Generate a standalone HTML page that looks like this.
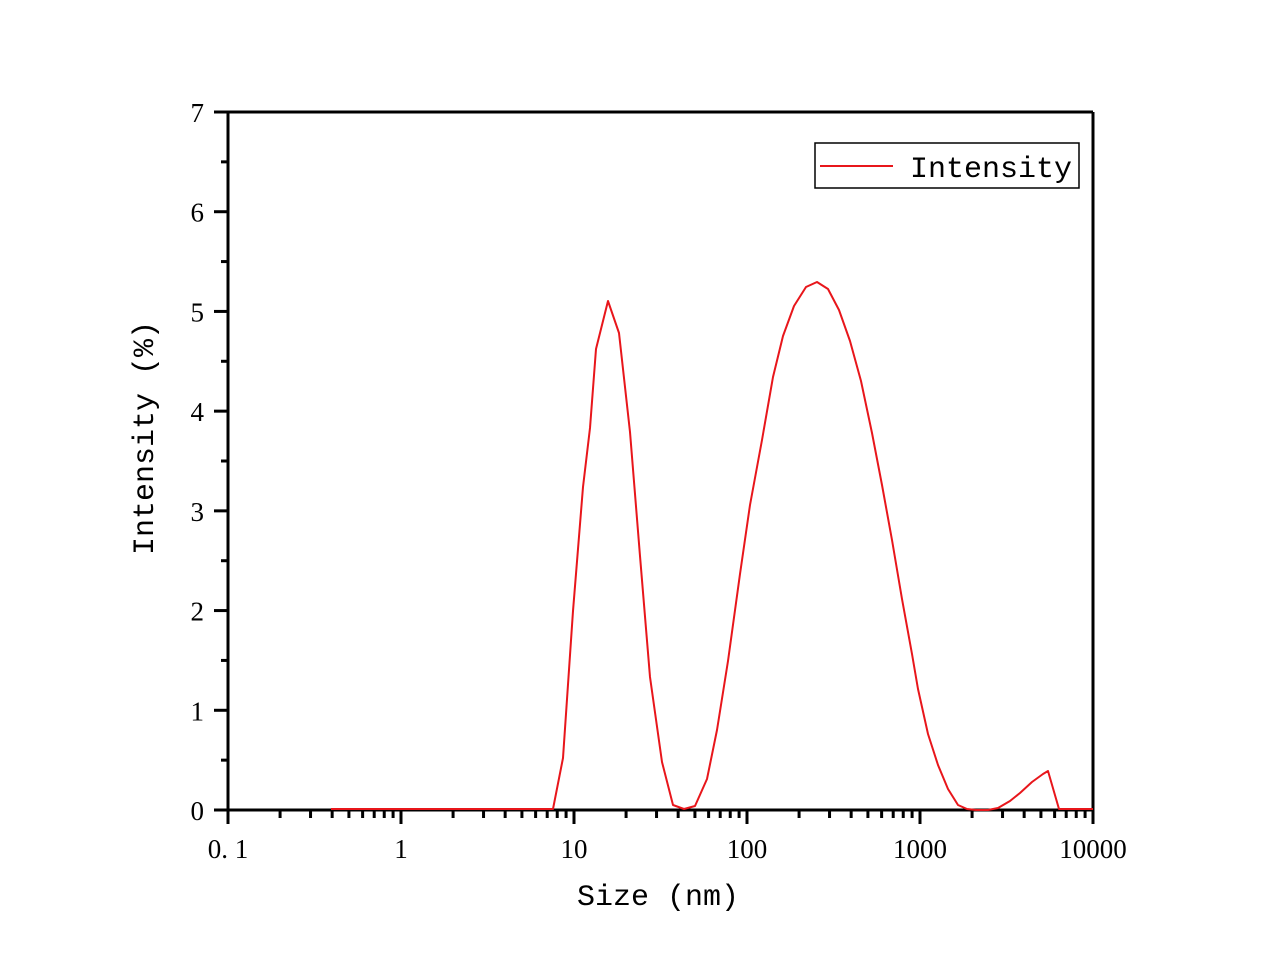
<!DOCTYPE html>
<html><head><meta charset="utf-8"><style>
html,body{margin:0;padding:0;background:#fff;width:1269px;height:971px;overflow:hidden}
text{font-family:"Liberation Serif","Noto Serif CJK SC",serif;fill:#000}
</style></head><body>
<svg id="s" width="1269" height="971" xmlns="http://www.w3.org/2000/svg">
<rect x="0" y="0" width="1269" height="971" fill="#fff"/>
<g id="g"></g>
<polyline fill="none" stroke="#e8161b" stroke-width="2" stroke-linejoin="round" points="331,809 553,809 563,758 573,611 583,487 590,428 596,349 608,301 619,333 630,432 640,556 650,677 662,762 673,805 684,809 695,806 707,779 717,730 728,661 740,574 750,505 762,440 773,377 783,336 794,306 806,287 817,282 828,289 839,310 850,341 861,381 872,433 882,485 892,540 902,599 912,654 918,689 928,734 938,765 948,789 958,805 967,809 976,810 988,810 998,808 1010,801 1020,793 1032,782 1043,774 1048,771 1059,809 1093,809"/>
<rect x="815" y="143" width="264" height="45" fill="#fff" stroke="#000" stroke-width="1.5"/>
<line x1="820" y1="166" x2="893" y2="166" stroke="#e8161b" stroke-width="2"/>
<text x="910" y="177" font-size="30" style="font-family:'Liberation Mono',monospace">Intensity</text>
<text x="658" y="905" font-size="30" text-anchor="middle" style="font-family:'Liberation Mono',monospace">Size (nm)</text>
<text transform="translate(153,438) rotate(-90)" font-size="30" text-anchor="middle" style="font-family:'Liberation Mono',monospace">Intensity (%)</text>
</svg>
<script>
var g=document.getElementById('g'),h='';
var L=228,R=1093,T=112,B=810,dec=(R-L)/5;
function ln(a,b,c,d,w){h+='<line x1="'+a+'" y1="'+b+'" x2="'+c+'" y2="'+d+'" stroke="#000" stroke-width="'+w+'"/>';}
ln(L,T,R,T,3);ln(R,T,R,B+1.5,3);ln(L,T-1.5,L,B+1.5,3);ln(L-1.5,B,R+1.5,B,3);
var labs=['0. 1','1','10','100','1000','10000'];
for(var d=0;d<=5;d++){var x=L+d*dec;ln(x,B,x,B+14,3);
h+='<text x="'+x+'" y="858" font-size="27" text-anchor="middle">'+labs[d]+'</text>';
if(d<5)for(var m=2;m<=9;m++){var xm=x+Math.log10(m)*dec;ln(xm,B,xm,B+8,3);}}
var yu=(B-T)/7;
for(var i=0;i<=7;i++){var y=B-i*yu;ln(L-14,y,L,y,3);
h+='<text x="204" y="'+(y+10)+'" font-size="27" text-anchor="end">'+i+'</text>';
if(i<7){var y2=y-yu/2;ln(L-7,y2,L,y2,3);}}
g.innerHTML=h;
</script>
</body></html>
